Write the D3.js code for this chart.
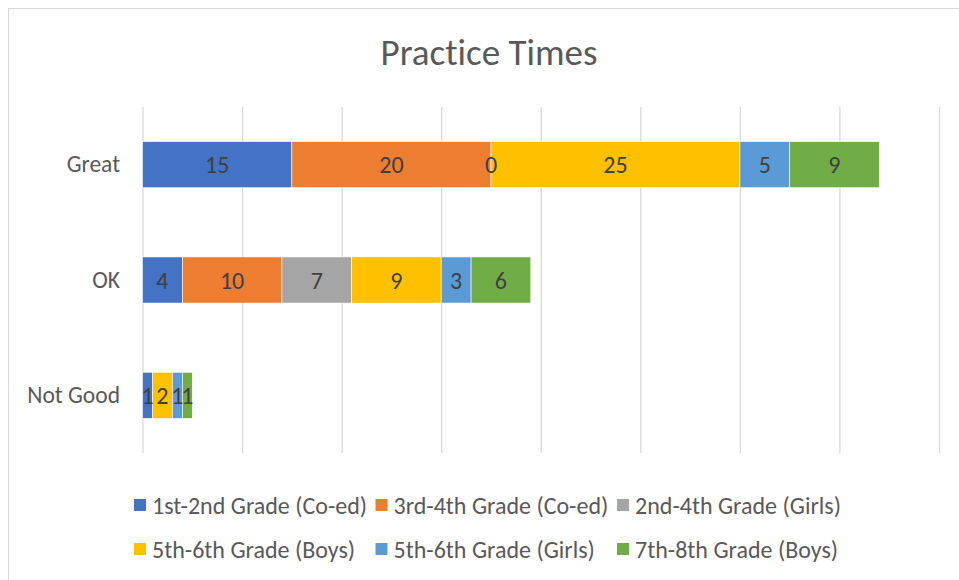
<!DOCTYPE html>
<html>
<head>
<meta charset="utf-8">
<script src="https://d3js.org/d3.v7.min.js"></script>
<style>
  body { margin: 0; background: #fff; }
  text { font-family: Carlito, "Liberation Sans", Arial, sans-serif; font-variant-ligatures: none; }
</style>
</head>
<body>
<svg width="959" height="580"></svg>
<script>
// categories (top to bottom) and series
const categories = ["Great", "OK", "Not Good"];
const seriesNames = ["1st-2nd Grade (Co-ed)", "3rd-4th Grade (Co-ed)", "2nd-4th Grade (Girls)",
                     "5th-6th Grade (Boys)", "5th-6th Grade (Girls)", "7th-8th Grade (Boys)"];
const colors = ["#4472C4", "#ED7D31", "#A5A5A5", "#FFC000", "#5B9BD5", "#70AD47"];
// values per series, in category order (null = no data)
const grade12 = [15, 4, 1];
const grade34 = [20, 10, null];
const girls24 = [0, 7, null];
const boys56 = [25, 9, 2];
const girls56 = [5, 3, 1];
const boys78 = [9, 6, 1];
const seriesValues = [grade12, grade34, girls24, boys56, girls56, boys78];
const xTicks = [0, 10, 20, 30, 40, 50, 60, 70, 80];

const svg = d3.select("svg");

// chart border
svg.append("rect")
  .attr("x", 8.5).attr("y", 8.5)
  .attr("width", 1000).attr("height", 1000)
  .attr("fill", "none").attr("stroke", "#d9d9d9");

svg.append("text")
  .attr("x", 489).attr("y", 65)
  .attr("text-anchor", "middle")
  .style("font-size", "37px")
  .style("fill", "#595959")
  .text("Practice Times");

const x = d3.scaleLinear().domain([0, 80]).range([142.5, 939]);
const y = d3.scaleBand().domain(categories).range([107, 453])
  .paddingInner(0.6).paddingOuter(0.3);

// gridlines
svg.append("g")
  .attr("transform", "translate(0,453)")
  .call(d3.axisBottom(x).tickValues(xTicks).tickSize(-346).tickFormat(""))
  .call(g => g.select(".domain").remove())
  .call(g => g.selectAll(".tick line").attr("stroke", "#d9d9d9").attr("stroke-width", 1.3));

// category labels
svg.append("g")
  .attr("transform", "translate(120,0)")
  .call(d3.axisLeft(y).tickSize(0).tickPadding(0))
  .call(g => g.select(".domain").remove())
  .call(g => g.selectAll("text").style("font-size", "23.5px").style("fill", "#595959")
    .style("font-family", "Carlito, 'Liberation Sans', Arial, sans-serif"));

// build stacked segments
const segs = [];
categories.forEach((c, ci) => {
  let acc = 0;
  seriesValues.forEach((vals, si) => {
    const v = vals[ci];
    if (v === null) return;
    segs.push({cat: c, si: si, x0: acc, x1: acc + v, v: v});
    acc += v;
  });
});

svg.append("g").selectAll("rect")
  .data(segs)
  .enter()
  .append("rect")
  .attr("x", d => x(d.x0))
  .attr("y", d => y(d.cat))
  .attr("width", d => x(d.x1) - x(d.x0))
  .attr("height", y.bandwidth())
  .attr("fill", d => colors[d.si])
  .attr("stroke", "#fff")
  .attr("stroke-width", d => d.v > 0 ? 0.6 : 0);

svg.append("g").selectAll("text")
  .data(segs)
  .enter()
  .append("text")
  .attr("x", d => (x(d.x0) + x(d.x1)) / 2)
  .attr("y", d => y(d.cat) + y.bandwidth() / 2)
  .attr("dy", "0.36em")
  .attr("text-anchor", "middle")
  .style("font-size", "24px")
  .style("fill", "#404040")
  .text(d => d.v);

// legend, 3 columns x 2 rows
const legend = svg.append("g");
seriesNames.forEach((name, i) => {
  const col = i % 3, row = Math.floor(i / 3);
  const lx = 134 + col * 241.5;
  const ly = 505 + row * 44;
  legend.append("rect")
    .attr("x", lx).attr("y", ly - 6)
    .attr("width", 12).attr("height", 12)
    .attr("fill", colors[i]);
  legend.append("text")
    .attr("x", lx + 18).attr("y", ly)
    .attr("dy", "0.36em")
    .style("font-size", "24px")
    .style("fill", "#595959")
    .text(name);
});
</script>
</body>
</html>
